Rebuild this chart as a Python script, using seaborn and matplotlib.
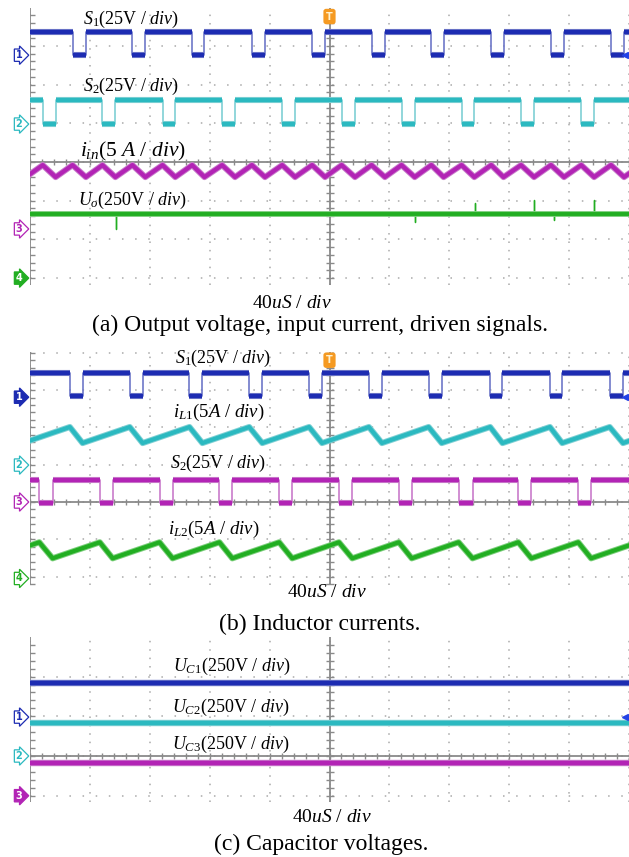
import numpy as np
import pandas as pd
import seaborn as sns
import matplotlib.pyplot as plt
import matplotlib.patheffects as pe
from matplotlib.transforms import blended_transform_factory

W, H = 629, 857

# ---------------- data (time in us, level in div) ----------
t_grid = [0, 40, 80, 120, 160, 200, 240, 280, 320, 360, 400]
t_trigger = 200.0

# (a) output voltage, input current, driven signals
a_s1_low_on = [-11.6, 28.4, 68.4, 108.3, 148.2, 188.4, 228.1, 268.0, 308.0, 347.9, 388.0, 428.0]
a_s1_low_off = [-2.7, 37.3, 77.0, 116.5, 156.9, 197.0, 237.0, 276.2, 316.2, 356.6, 396.7, 436.7]
a_s2_low_on = [-31.6, 8.5, 48.4, 88.5, 128.3, 168.4, 208.1, 248.1, 288.2, 327.9, 368.1, 408.1]
a_s2_low_off = [-22.9, 17.1, 57.0, 97.0, 136.9, 177.0, 217.0, 256.9, 296.7, 336.6, 376.7, 416.7]
a_s1_levels = [2.76, 3.37]      # low, high
a_s2_levels = [0.98, 1.61]
a_iin_levels = [-0.39, -0.08]   # valley, peak
a_uo_level = -1.34
a_uo_spike_t = [57.2, 256.9, 296.9, 336.8, 350.1, 376.7]
a_uo_spike_v = [-1.72, -1.55, -1.05, -0.98, -1.50, -0.98]
a_ch_ground = [2.76, 0.98, -1.73, -3.0]

# (b) inductor currents
b_s1_low_on = [-13.4, 26.6, 66.6, 106.5, 146.4, 186.4, 226.3, 266.2, 307.3, 347.2, 387.1, 427.1]
b_s1_low_off = [-4.9, 35.1, 75.2, 115.1, 155.1, 195.0, 235.0, 274.9, 315.5, 355.4, 396.0, 436.0]
b_s2_low_on = [-33.8, 6.2, 46.6, 86.5, 126.5, 166.4, 206.3, 246.3, 286.2, 326.1, 366.1, 406.1]
b_s2_low_off = [-24.9, 15.1, 55.2, 95.2, 135.1, 175.1, 215.2, 254.9, 295.5, 334.8, 374.7, 414.7]
b_s1_levels = [2.83, 3.46]
b_il1_levels = [1.58, 2.01]
b_s2_levels = [-0.02, 0.59]
b_il2_levels = [-1.51, -1.08]
b_ch_ground = [2.81, 0.99, 0.0, -2.05]

# (c) capacitor voltages
c_uc_levels = [1.83, 0.82, -0.17]
c_ch_ground = [0.98, 0.0, -1.0]

# ---------------- colours ----------------
BLUE, BLUE_E = "#1d2cb2", "#6e78c8"
CYAN, CYAN_E = "#2bb9c0", "#7fd0d4"
MAG, MAG_E = "#b224b5", "#c97ccb"
GREEN, GREEN_E = "#22ae22", "#7ccf7c"
GRID = "#a9a9a9"
AXIS = "#8a8a8a"

sns.set_theme(style="white")
plt.rcParams["font.family"] = ["Liberation Serif", "DejaVu Serif"]
plt.rcParams["mathtext.fontset"] = "custom"
plt.rcParams["mathtext.rm"] = "Liberation Serif"
plt.rcParams["mathtext.it"] = "Liberation Serif:italic"
plt.rcParams["mathtext.bf"] = "Liberation Serif:bold"

fig = plt.figure(figsize=(W / 100, H / 100), dpi=100)
fig.patch.set_facecolor("white")


def halo(edge, lw):
    # soft fringe standing in for the scope's noise band
    return [pe.Stroke(linewidth=lw + 1.4, foreground=edge), pe.Normal()]


def square(on, off, levels):
    lo, hi = levels
    t, v = [], []
    for a, b in zip(on, off):
        t += [a, a, b, b]
        v += [hi, lo, lo, hi]
    return t, v


def triangle(peaks, valleys, levels):
    lo, hi = levels
    t, v = [], []
    for a, b in zip(peaks, valleys):
        t += [a, b]
        v += [hi, lo]
    return t, v


def draw_square(ax, on, off, levels, color, edge):
    t, v = square(on, off, levels)
    sns.lineplot(x=t, y=v, ax=ax, color=edge, linewidth=1.2, estimator=None, sort=False)
    lo, hi = levels
    for l in (ax.hlines([lo] * len(on), on, off, color=color, lw=3.0, zorder=3),
              ax.hlines([hi] * (len(on) - 1), off[:-1], on[1:], color=color, lw=3.0, zorder=3)):
        l.set_path_effects(halo(edge, 3.0))


def draw_wave(ax, t, v, color, edge, lw=3.0):
    sns.lineplot(x=t, y=v, ax=ax, color=color, linewidth=lw, estimator=None, sort=False)
    ax.lines[-1].set_path_effects(halo(edge, lw))


def make_panel(top, bottom, center, div):
    ax = fig.add_axes([30 / W, 1 - bottom / H, 599 / W, (bottom - top) / H])
    ax.set_xlim(0, 599 / 60.1 * 40)
    ax.set_ylim(-(bottom - center) / div, (center - top) / div)
    ax.set_facecolor("white")
    for s in ax.spines.values():
        s.set_visible(False)
    ax.set_xticks(t_grid)
    y0, y1 = ax.get_ylim()
    ax.set_yticks(np.arange(np.ceil(y0), np.floor(y1) + 1))
    ax.tick_params(length=0, labelbottom=False, labelleft=False)
    ax.xaxis.grid(True, color=GRID, lw=1.1, linestyle=(0, (1, 4.5)))
    ax.yaxis.grid(True, color=GRID, lw=1.1, linestyle=(0, (1, 7.6)))
    ax.set_axisbelow(True)
    # graticule axes with minor ticks
    ax.axvline(0, color=AXIS, lw=1.3, zorder=1)
    ax.axvline(t_trigger, color=AXIS, lw=1.3, zorder=1)
    ax.axhline(0, color=AXIS, lw=1.3, zorder=1)
    mt = np.arange(0, 401, 8)
    ax.plot(mt, np.zeros_like(mt), ls="none", marker="|", ms=5, mew=1, color=AXIS, zorder=1)
    my = np.arange(np.ceil(y0 * 5), np.floor(y1 * 5) + 1) / 5
    ax.plot(np.full_like(my, t_trigger), my, ls="none", marker="_", ms=6, mew=1, color=AXIS, zorder=1)
    ax.plot(np.zeros_like(my), my, ls="none", marker="_", ms=7, mew=1, color=AXIS, zorder=1)
    return ax


def ch_marker(ax, num, level, color, filled):
    tr = blended_transform_factory(ax.transAxes, ax.transData)
    ax.annotate(str(num), xy=(0, level), xycoords=tr, xytext=(-8, 0),
                textcoords="offset points", ha="center", va="center",
                fontsize=7, fontweight="bold", family="DejaVu Sans",
                color="white" if filled else color,
                bbox=dict(boxstyle="rarrow,pad=0.12", fc=color if filled else "white",
                          ec=color, lw=0.9),
                annotation_clip=False, zorder=6)


def trigger(ax):
    ax.text(t_trigger, ax.get_ylim()[1] - 0.22, "T", ha="center", va="center", fontsize=7,
            fontweight="bold", family="DejaVu Sans", color="#fff2d0", zorder=7,
            bbox=dict(boxstyle="round,pad=0.28", fc="#f59a22", ec="none"))


def right_arrow(ax, level):
    ax.plot([397.5], [level], marker="<", ms=5, color="#2342e6", ls="none", clip_on=False, zorder=6)


def ftext(x, y, s, size, ha="left"):
    fig.text(x / W, 1 - y / H, s, fontsize=size, ha=ha, va="baseline", color="black")


# ---------------- (a) ----------------
ax = make_panel(8, 285, 162, 38.7)
draw_square(ax, a_s1_low_on, a_s1_low_off, a_s1_levels, BLUE, BLUE_E)
draw_square(ax, a_s2_low_on, a_s2_low_off, a_s2_levels, CYAN, CYAN_E)
t, v = triangle(sorted(a_s1_low_on + a_s2_low_on), sorted(a_s1_low_off + a_s2_low_off), a_iin_levels)
draw_wave(ax, t, v, MAG, MAG_E, 3.0)
ut, uv = [-5], [a_uo_level]
for st, sv in zip(a_uo_spike_t, a_uo_spike_v):
    ut += [st, st, st]
    uv += [a_uo_level, sv, a_uo_level]
ut.append(405)
uv.append(a_uo_level)
sns.lineplot(x=ut, y=uv, ax=ax, color=GREEN, linewidth=1.0, estimator=None, sort=False)
ax.axhline(a_uo_level, color=GREEN, lw=2.8, zorder=3).set_path_effects(halo(GREEN_E, 2.8))
for n, (lvl, c) in enumerate(zip(a_ch_ground, [BLUE, CYAN, MAG, GREEN]), start=1):
    ch_marker(ax, n, lvl, c, filled=(n == 4))
trigger(ax)
right_arrow(ax, a_ch_ground[0])

ftext(83, 24, r"$S_1$(25V / $div$)", 13)
ftext(83, 91, r"$S_2$(25V / $div$)", 13)
ftext(80, 156, r"$i_{in}$(5 $A$ / $div$)", 15.5)
ftext(78, 205, r"$U_o$(250V / $div$)", 13)
ftext(252, 308, r"40$uS$ / $div$", 14)
ftext(320, 331, "(a) Output voltage, input current, driven signals.", 17, ha="center")

# ---------------- (b) ----------------
ax = make_panel(352, 585, 502, 37.3)
draw_square(ax, b_s1_low_on, b_s1_low_off, b_s1_levels, BLUE, BLUE_E)
t, v = triangle(b_s1_low_on, b_s1_low_off, b_il1_levels)
draw_wave(ax, t, v, CYAN, CYAN_E, 3.0)
draw_square(ax, b_s2_low_on, b_s2_low_off, b_s2_levels, MAG, MAG_E)
t, v = triangle(b_s2_low_on, b_s2_low_off, b_il2_levels)
draw_wave(ax, t, v, GREEN, GREEN_E, 3.0)
for n, (lvl, c) in enumerate(zip(b_ch_ground, [BLUE, CYAN, MAG, GREEN]), start=1):
    ch_marker(ax, n, lvl, c, filled=(n == 1))
trigger(ax)
right_arrow(ax, b_ch_ground[0])

ftext(175, 362.5, r"$S_1$(25V / $div$)", 13)
ftext(173, 417, r"$i_{L1}$(5$A$ / $div$)", 13.5)
ftext(170, 468, r"$S_2$(25V / $div$)", 13)
ftext(168, 534, r"$i_{L2}$(5$A$ / $div$)", 13.5)
ftext(287, 597, r"40$uS$ / $div$", 14)
ftext(320, 630, "(b) Inductor currents.", 17, ha="center")

# ---------------- (c) ----------------
ax = make_panel(637, 802, 756, 39.7)
for lvl, c, e in zip(c_uc_levels, [BLUE, CYAN, MAG], [BLUE_E, CYAN_E, MAG_E]):
    draw_wave(ax, [-5, 405], [lvl, lvl], c, e, 3.2)
for n, (lvl, c) in enumerate(zip(c_ch_ground, [BLUE, CYAN, MAG]), start=1):
    ch_marker(ax, n, lvl, c, filled=(n == 3))
right_arrow(ax, c_ch_ground[0])

ftext(173, 670.5, r"$U_{C1}$(250V / $div$)", 13)
ftext(172, 711.5, r"$U_{C2}$(250V / $div$)", 13)
ftext(172, 748.5, r"$U_{C3}$(250V / $div$)", 13)
ftext(292, 821.5, r"40$uS$ / $div$", 14)
ftext(321, 850, "(c) Capacitor voltages.", 17, ha="center")

fig.savefig("out.png", dpi=100)
